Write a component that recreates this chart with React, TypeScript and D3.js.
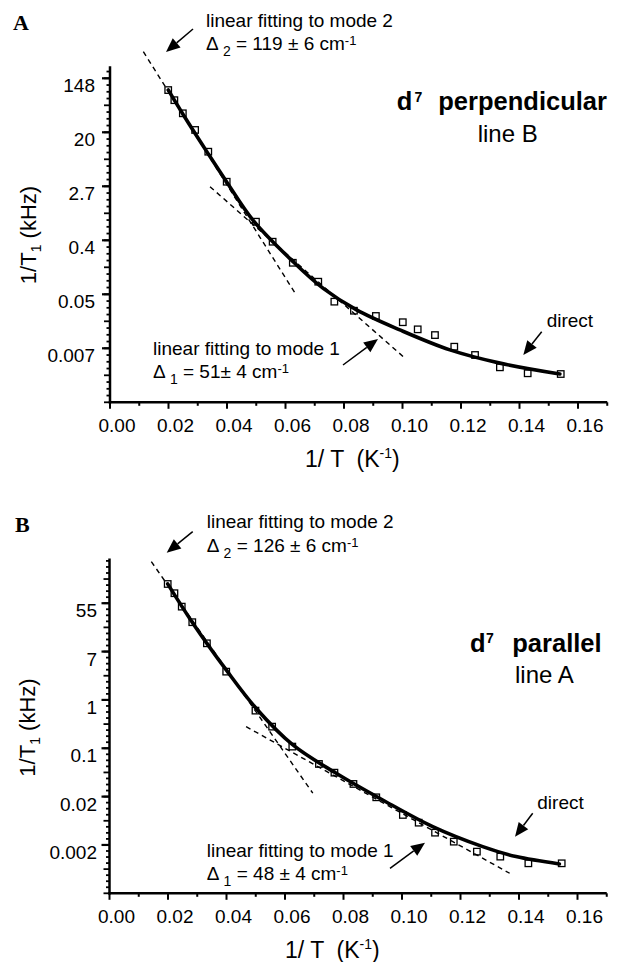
import React from 'react';
import * as d3 from 'd3';

// ---------------- Panel A : d7 perpendicular, line B ----------------
const invT_A = [0.0199, 0.022, 0.0249, 0.0291, 0.0336, 0.0399, 0.0499, 0.0556, 0.0625, 0.0712, 0.0767, 0.0834, 0.0909, 0.1001, 0.1052, 0.1111, 0.1177, 0.1248, 0.1333, 0.1428, 0.1541];
const rate_A = [96, 66, 40.6, 21.9, 9.79, 3.22, 0.733, 0.349, 0.16, 0.0794, 0.0379, 0.0271, 0.0223, 0.0177, 0.0136, 0.011, 0.00715, 0.00526, 0.00333, 0.00267, 0.0026];
const fitInvT_A = [0.0199, 0.025, 0.0336, 0.0399, 0.049, 0.0627, 0.0729, 0.0843, 0.0991, 0.1162, 0.1333, 0.1538];
const fitRate_A = [96.5, 38.9, 9.03, 3.19, 0.763, 0.165, 0.062, 0.0279, 0.0133, 0.00635, 0.00389, 0.0026];
const mode2InvT_A = [0.0114, 0.0633];
const mode2Rate_A = [397, 0.0517];
const mode1InvT_A = [0.0342, 0.1009];
const mode1Rate_A = [2.68, 0.00465];

// ---------------- Panel B : d7 parallel, line A ----------------
const invT_B = [0.0199, 0.0222, 0.0247, 0.0283, 0.0333, 0.0399, 0.0499, 0.0556, 0.0625, 0.0716, 0.0769, 0.0834, 0.0912, 0.1003, 0.1057, 0.1113, 0.1177, 0.1256, 0.1336, 0.1432, 0.1546];
const rate_B = [121, 82.6, 47.4, 24.9, 10.4, 3.22, 0.642, 0.331, 0.145, 0.0707, 0.0493, 0.0309, 0.0178, 0.00858, 0.00623, 0.00412, 0.00284, 0.00188, 0.00153, 0.00116, 0.00116];
const fitInvT_B = [0.0199, 0.0285, 0.0399, 0.0501, 0.0627, 0.0775, 0.0934, 0.1105, 0.1276, 0.139, 0.1538];
const fitRate_B = [121.5, 23.9, 3.456, 0.709, 0.1552, 0.0481, 0.01594, 0.00529, 0.00231, 0.00153, 0.00113];
const mode2InvT_B = [0.0143, 0.0695];
const mode2Rate_B = [305, 0.0211];
const mode1InvT_B = [0.0467, 0.1368];
const mode1Rate_B = [0.331, 0.000769];

// ---------------- ticks ----------------
const xTickValues = [0, 0.02, 0.04, 0.06, 0.08, 0.1, 0.12, 0.14, 0.16];
const xTickLabels = ['0.00', '0.02', '0.04', '0.06', '0.08', '0.10', '0.12', '0.14', '0.16'];
const xMinorValues = [0.01, 0.03, 0.05, 0.07, 0.09, 0.11, 0.13, 0.15, 0.17];
const yTickValuesA = [148.41, 20.09, 2.718, 0.3679, 0.04979, 0.006738];
const yTickLabelsA = ['148', '20', '2.7', '0.4', '0.05', '0.007'];
const yTickValuesB = [54.6, 7.389, 1, 0.1353, 0.01832, 0.002479];
const yTickLabelsB = ['55', '7', '1', '0.1', '0.02', '0.002'];

const FONT = "'Liberation Sans', Arial, Helvetica, sans-serif";

type Pt = [number, number];

function Arrow({ from, to }: { from: Pt; to: Pt }) {
  const dx = to[0] - from[0];
  const dy = to[1] - from[1];
  const len = Math.hypot(dx, dy);
  const ux = dx / len, uy = dy / len;
  const hl = 14, hw = 6;
  const bx = to[0] - ux * hl, by = to[1] - uy * hl;
  const pts = [
    [to[0], to[1]],
    [bx - uy * hw, by + ux * hw],
    [bx + uy * hw, by - ux * hw],
  ];
  return (
    <g>
      <line x1={from[0]} y1={from[1]} x2={bx} y2={by} stroke="#000" strokeWidth={1.5} />
      <polygon points={pts.map((p) => p.join(',')).join(' ')} fill="#000" />
    </g>
  );
}

function DeltaText({ x, y, sub, rest }: { x: number; y: number; sub: string; rest: string }) {
  return (
    <text x={x} y={y} fontSize={19} fontFamily={FONT} style={{ whiteSpace: 'pre' }}>
      <tspan>Δ </tspan>
      <tspan fontSize={14} dy={6}>{sub}</tspan>
      <tspan dy={-6}>{rest}</tspan>
      <tspan fontSize={13} dy={-5}>-1</tspan>
    </text>
  );
}

function Panel(props: any) {
  const c = props.cfg;
  const x = d3.scaleLinear().domain([0, 0.17]).range([c.x0, c.x0 + 0.17 * 2925]);
  const y = d3
    .scaleLog()
    .base(Math.E)
    .domain([Math.exp(c.lnLo), Math.exp(c.lnHi)])
    .range([c.yBottom, c.yTop]);

  const line = d3
    .line<Pt>()
    .x((d) => x(d[0]))
    .y((d) => y(d[1]))
    .curve(d3.curveCatmullRom.alpha(0.5));
  const straight = d3
    .line<Pt>()
    .x((d) => x(d[0]))
    .y((d) => y(d[1]));

  const fitPts: Pt[] = c.fitX.map((v: number, i: number) => [v, c.fitY[i]]);
  const m2: Pt[] = c.m2X.map((v: number, i: number) => [v, c.m2Y[i]]);
  const m1: Pt[] = c.m1X.map((v: number, i: number) => [v, c.m1Y[i]]);

  const minor: number[] = d3
    .range(Math.ceil(c.lnLo * 4), Math.floor(c.lnHi * 4) + 1)
    .map((k: number) => k / 4);

  const xEnd = x(0.17);
  const sq = 6.5;

  return (
    <g>
      {/* axes */}
      <line x1={c.x0 - 1.25} y1={c.yBottom} x2={xEnd} y2={c.yBottom} stroke="#000" strokeWidth={2.5} />
      <line x1={c.x0} y1={c.yTop} x2={c.x0} y2={c.yBottom + 1.25} stroke="#000" strokeWidth={2.5} />
      {xTickValues.map((v, i) => (
        <g key={'xt' + i}>
          <line x1={x(v)} y1={c.yBottom} x2={x(v)} y2={c.yBottom + 6.5} stroke="#000" strokeWidth={2} />
          <text x={x(v) + 7} y={c.yBottom + c.xLabDy} textAnchor="middle" fontSize={19} fontFamily={FONT}>
            {xTickLabels[i]}
          </text>
        </g>
      ))}
      {xMinorValues.map((v, i) => (
        <line key={'xm' + i} x1={x(v)} y1={c.yBottom} x2={x(v)} y2={c.yBottom + 3.5} stroke="#000" strokeWidth={2} />
      ))}
      {minor.map((l, i) => {
        const isInt = Math.abs(l - Math.round(l)) < 1e-9;
        const len = isInt ? 6 : 3.5;
        const yy = y(Math.exp(l));
        return <line key={'ym' + i} x1={c.x0} y1={yy} x2={c.x0 - len} y2={yy} stroke="#000" strokeWidth={1.8} />;
      })}
      {c.yTicks.map((v: number, i: number) => (
        <g key={'yt' + i}>
          <line x1={c.x0} y1={y(v)} x2={c.x0 - 8} y2={y(v)} stroke="#000" strokeWidth={2.2} />
          <text x={c.yLabX} y={y(v) + 14} textAnchor="end" fontSize={19} fontFamily={FONT}>
            {c.yLabels[i]}
          </text>
        </g>
      ))}

      {/* axis titles */}
      <text
        transform={`translate(${c.yTitleX},${c.yTitleY}) rotate(-90)`}
        textAnchor="middle"
        fontSize={22}
        fontFamily={FONT}
        style={{ whiteSpace: 'pre' }}
      >
        <tspan>1/T</tspan>
        <tspan fontSize={14} dy={5}>1</tspan>
        <tspan dy={-5}> (kHz)</tspan>
      </text>
      <text x={c.xTitleX} y={c.xTitleY} fontSize={23} fontFamily={FONT} style={{ whiteSpace: 'pre' }}>
        <tspan>1/ T  (K</tspan>
        <tspan fontSize={14} dy={-9}>-1</tspan>
        <tspan dy={9}>)</tspan>
      </text>

      {/* dashed linear fits */}
      <path d={straight(m2) || ''} fill="none" stroke="#000" strokeWidth={1.4} strokeDasharray="5,4" />
      <path d={straight(m1) || ''} fill="none" stroke="#000" strokeWidth={1.4} strokeDasharray="5,4" />

      {/* fitted curve */}
      <path d={line(fitPts) || ''} fill="none" stroke="#000" strokeWidth={3.6} strokeLinecap="round" />

      {/* data points */}
      {c.dataX.map((v: number, i: number) => (
        <rect
          key={'p' + i}
          x={x(v) - sq / 2}
          y={y(c.dataY[i]) - sq / 2}
          width={sq}
          height={sq}
          fill="none"
          stroke="#000"
          strokeWidth={1.3}
        />
      ))}

      {/* panel letter */}
      <text x={c.letterX} y={c.letterY} fontSize={22} fontWeight="bold" fontFamily="'Liberation Serif', 'Times New Roman', serif">
        {c.letter}
      </text>

      {/* annotations */}
      <text x={c.m2TextX} y={c.m2TextY} fontSize={19} fontFamily={FONT}>linear fitting to mode 2</text>
      <DeltaText x={c.m2TextX} y={c.m2TextY + 23.3} sub="2" rest={c.m2Rest} />
      <Arrow from={c.m2ArrowFrom} to={c.m2ArrowTo} />

      <text x={c.m1TextX} y={c.m1TextY} fontSize={19} fontFamily={FONT}>linear fitting to mode 1</text>
      <DeltaText x={c.m1TextX} y={c.m1TextY + 23.3} sub="1" rest={c.m1Rest} />
      <Arrow from={c.m1ArrowFrom} to={c.m1ArrowTo} />

      <text x={c.directX} y={c.directY} fontSize={19} fontFamily={FONT}>direct</text>
      <Arrow from={c.dArrowFrom} to={c.dArrowTo} />

      {/* title */}
      <text x={c.dX} y={c.titleY} fontSize={25.5} fontWeight="bold" fontFamily={FONT}>d</text>
      <text x={c.supX} y={c.titleY - 8.5} fontSize={14} fontWeight="bold" fontFamily={FONT}>7</text>
      <text x={c.wordX} y={c.titleY} fontSize={25.5} fontWeight="bold" fontFamily={FONT}>{c.word}</text>
      <text x={c.lineX} y={c.lineY} fontSize={24} fontFamily={FONT}>{c.lineLabel}</text>
    </g>
  );
}

const cfgA = {
  x0: 110,
  lnLo: -7,
  lnHi: 5.45,
  yBottom: 402.3,
  yTop: 66.15,
  xLabDy: 30,
  yLabX: 95,
  yTicks: yTickValuesA,
  yLabels: yTickLabelsA,
  yTitleX: 36,
  yTitleY: 235,
  xTitleX: 305,
  xTitleY: 467,
  dataX: invT_A,
  dataY: rate_A,
  fitX: fitInvT_A,
  fitY: fitRate_A,
  m2X: mode2InvT_A,
  m2Y: mode2Rate_A,
  m1X: mode1InvT_A,
  m1Y: mode1Rate_A,
  letter: 'A',
  letterX: 13,
  letterY: 30,
  m2TextX: 206,
  m2TextY: 26.7,
  m2Rest: ' = 119 ± 6 cm',
  m2ArrowFrom: [193, 29] as Pt,
  m2ArrowTo: [166, 52] as Pt,
  m1TextX: 153,
  m1TextY: 355,
  m1Rest: ' = 51± 4 cm',
  m1ArrowFrom: [343, 365] as Pt,
  m1ArrowTo: [378, 339] as Pt,
  directX: 546.7,
  directY: 326.5,
  dArrowFrom: [541.7, 331.7] as Pt,
  dArrowTo: [523.3, 355] as Pt,
  dX: 396.7,
  supX: 414.5,
  wordX: 438.3,
  word: 'perpendicular',
  titleY: 110,
  lineX: 477.7,
  lineY: 141.7,
  lineLabel: 'line B',
};

const cfgB = {
  x0: 109.5,
  lnLo: -8,
  lnHi: 5.85,
  yBottom: 893.3,
  yTop: 558.5,
  xLabDy: 29.5,
  yLabX: 97,
  yTicks: yTickValuesB,
  yLabels: yTickLabelsB,
  yTitleX: 35,
  yTitleY: 727.5,
  xTitleX: 285,
  xTitleY: 958,
  dataX: invT_B,
  dataY: rate_B,
  fitX: fitInvT_B,
  fitY: fitRate_B,
  m2X: mode2InvT_B,
  m2Y: mode2Rate_B,
  m1X: mode1InvT_B,
  m1Y: mode1Rate_B,
  letter: 'B',
  letterX: 15,
  letterY: 532,
  m2TextX: 206.7,
  m2TextY: 528.3,
  m2Rest: ' = 126 ± 6 cm',
  m2ArrowFrom: [192.7, 531.7] as Pt,
  m2ArrowTo: [166.7, 552.7] as Pt,
  m1TextX: 206.7,
  m1TextY: 856.7,
  m1Rest: ' = 48 ± 4 cm',
  m1ArrowFrom: [390, 868.3] as Pt,
  m1ArrowTo: [425, 842.7] as Pt,
  directX: 537.3,
  directY: 809.3,
  dArrowFrom: [532.7, 813.3] as Pt,
  dArrowTo: [515, 836.7] as Pt,
  dX: 470,
  supX: 486,
  wordX: 512.3,
  word: 'parallel',
  titleY: 651.7,
  lineX: 515,
  lineY: 683,
  lineLabel: 'line A',
};

export default function App() {
  return (
    <svg
      width={621}
      height={962}
      viewBox="0 0 621 962"
      style={{ position: 'absolute', left: 0, top: 0, background: '#fff' }}
    >
      <rect x={0} y={0} width={621} height={962} fill="#fff" />
      <Panel cfg={cfgA} />
      <Panel cfg={cfgB} />
    </svg>
  );
}
